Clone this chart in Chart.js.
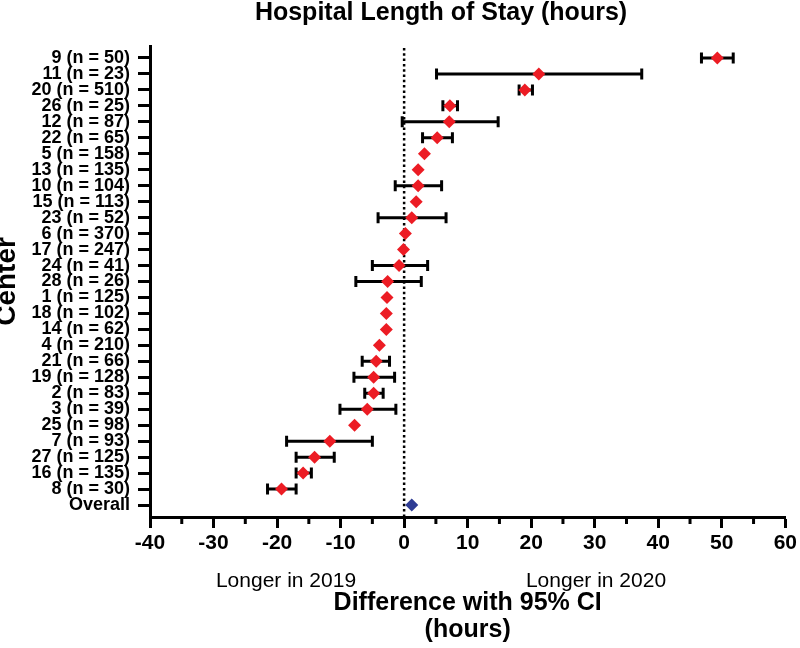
<!DOCTYPE html>
<html>
<head>
<meta charset="utf-8">
<script src="https://cdn.jsdelivr.net/npm/chart.js@4"></script>
<style>
  html, body { margin: 0; padding: 0; background: #fff; }
  #wrap { width: 800px; height: 648px; }
</style>
</head>
<body>
<div id="wrap"><canvas id="myChart"></canvas></div>
<script>
// centres, top to bottom
const centers = [
  "9 (n = 50)", "11 (n = 23)", "20 (n = 510)", "26 (n = 25)", "12 (n = 87)",
  "22 (n = 65)", "5 (n = 158)", "13 (n = 135)", "10 (n = 104)", "15 (n = 113)",
  "23 (n = 52)", "6 (n = 370)", "17 (n = 247)", "24 (n = 41)", "28 (n = 26)",
  "1 (n = 125)", "18 (n = 102)", "14 (n = 62)", "4 (n = 210)", "21 (n = 66)",
  "19 (n = 128)", "2 (n = 83)", "3 (n = 39)", "25 (n = 98)", "7 (n = 93)",
  "27 (n = 125)", "16 (n = 135)", "8 (n = 30)"
];
const diffs = [
  49.3, 21.2, 19.0, 7.2, 7.1, 5.2, 3.2, 2.2, 2.2, 1.9,
  1.2, 0.2, -0.1, -0.8, -2.6, -2.7, -2.8, -2.8, -3.9, -4.4,
  -4.8, -4.8, -5.8, -7.8, -11.7, -14.1, -15.9, -19.3
];
const lower = [
  46.8, 5.1, 18.1, 6.1, -0.3, 2.9, 2.8, 1.5, -1.4, 1.5,
  -4.1, -0.6, -0.4, -5.0, -7.6, -3.1, -3.1, -3.8, -4.4, -6.6,
  -7.9, -6.2, -10.1, -8.2, -18.5, -17.0, -17.0, -21.5
];
const upper = [
  51.8, 37.4, 20.2, 8.4, 14.8, 7.6, 3.6, 3.1, 5.9, 2.3,
  6.6, 1.2, 0.2, 3.7, 2.7, -2.3, -2.5, -1.9, -3.4, -2.3,
  -1.5, -3.3, -1.3, -7.4, -5.0, -11.0, -14.6, -17.0
];
const overallLabel = "Overall";
const overallDiff = 1.2;
const sideLabels = ["Longer in 2019", "Longer in 2020"];

const yLabels = [...centers, overallLabel];
const FONT = "'Liberation Sans', Arial, Helvetica, sans-serif";
const MARK = 6.5;

const forestLines = {
  id: "forestLines",
  beforeDatasetsDraw(chart) {
    const { ctx, chartArea, scales: { x, y } } = chart;
    ctx.save();
    // dotted line at zero
    ctx.strokeStyle = "#000";
    ctx.lineWidth = 2.5;
    ctx.setLineDash([2.5, 2.8]);
    const x0 = x.getPixelForValue(0);
    ctx.beginPath();
    ctx.moveTo(x0, chartArea.top + 2);
    ctx.lineTo(x0, chartArea.bottom);
    ctx.stroke();
    ctx.setLineDash([]);
    // confidence intervals
    ctx.lineWidth = 3;
    diffs.forEach((d, i) => {
      const xl = x.getPixelForValue(lower[i]);
      const xr = x.getPixelForValue(upper[i]);
      const xc = x.getPixelForValue(d);
      if (xc - xl < MARK && xr - xc < MARK) return; // hidden behind marker
      const yy = y.getPixelForValue(i);
      ctx.beginPath();
      ctx.moveTo(xl, yy);
      ctx.lineTo(xr, yy);
      ctx.moveTo(xl, yy - 5.5);
      ctx.lineTo(xl, yy + 5.5);
      ctx.moveTo(xr, yy - 5.5);
      ctx.lineTo(xr, yy + 5.5);
      ctx.stroke();
    });
    ctx.restore();
  },
  afterDraw(chart) {
    const { ctx, chartArea, scales: { x } } = chart;
    ctx.save();
    // minor ticks
    ctx.strokeStyle = "#000";
    ctx.lineWidth = 3;
    for (let v = -35; v < 60; v += 10) {
      const px = x.getPixelForValue(v);
      ctx.beginPath();
      ctx.moveTo(px, chartArea.bottom);
      ctx.lineTo(px, chartArea.bottom + 7);
      ctx.stroke();
    }
    ctx.fillStyle = "#000";
    ctx.textAlign = "center";
    ctx.textBaseline = "middle";
    ctx.font = "21px " + FONT;
    ctx.fillText(sideLabels[0], 286, 581);
    ctx.fillText(sideLabels[1], 596, 581);
    ctx.font = "bold 25px " + FONT;
    ctx.textBaseline = "alphabetic";
    ctx.fillText("Hospital Length of Stay (hours)", 441, 20);
    ctx.restore();
  }
};

function renderChart() {
  const ctx = document.getElementById("myChart");
  new Chart(ctx, {
    type: "scatter",
    data: {
      datasets: [
        {
          label: "Centers",
          data: diffs.map((d, i) => ({ x: d, y: i })),
          pointStyle: "rectRot",
          pointRadius: MARK,
          backgroundColor: "#ec1c24",
          borderWidth: 0,
        },
        {
          label: "Overall",
          data: [{ x: overallDiff, y: centers.length }],
          pointStyle: "rectRot",
          pointRadius: MARK,
          backgroundColor: "#2e3c94",
          borderWidth: 0,
        },
      ],
    },
    options: {
      responsive: true,
      maintainAspectRatio: false,
      animation: false,
      events: [],
      layout: { padding: { top: 46, right: -3, left: 0, bottom: 0 } },
      plugins: { legend: { display: false }, tooltip: { enabled: false } },
      scales: {
        x: {
          type: "linear",
          min: -40,
          max: 60,
          afterFit: (s) => { s.height = 131; },
          ticks: {
            stepSize: 10,
            color: "#000",
            padding: 3,
            font: { family: FONT, size: 21, weight: "bold" },
          },
          grid: { drawOnChartArea: false, tickLength: 11, tickWidth: 3, tickColor: "#000" },
          border: { color: "#000", width: 3 },
          title: {
            display: true,
            text: ["Difference with 95% CI", "(hours)"],
            color: "#000",
            padding: { top: 0, bottom: 4 },
            font: { family: FONT, size: 25, weight: "bold", lineHeight: 1.1 },
          },
        },
        y: {
          type: "linear",
          reverse: true,
          min: -0.75,
          max: 28.75,
          afterFit: (s) => { s.width = 150; },
          afterBuildTicks: (s) => { s.ticks = yLabels.map((_, i) => ({ value: i })); },
          ticks: {
            autoSkip: false,
            color: "#000",
            padding: 8,
            font: { family: FONT, size: 18, weight: "bold", lineHeight: 1 },
            callback: (v) => yLabels[v],
          },
          grid: { drawOnChartArea: false, tickLength: 12, tickWidth: 3, tickColor: "#000" },
          border: { color: "#000", width: 3 },
          title: {
            display: true,
            text: "Center",
            color: "#000",
            padding: 0,
            font: { family: FONT, size: 28, weight: "bold", lineHeight: 0.55 },
          },
        },
      },
    },
    plugins: [forestLines],
  });
}

window.onload = renderChart;
</script>
</body>
</html>
